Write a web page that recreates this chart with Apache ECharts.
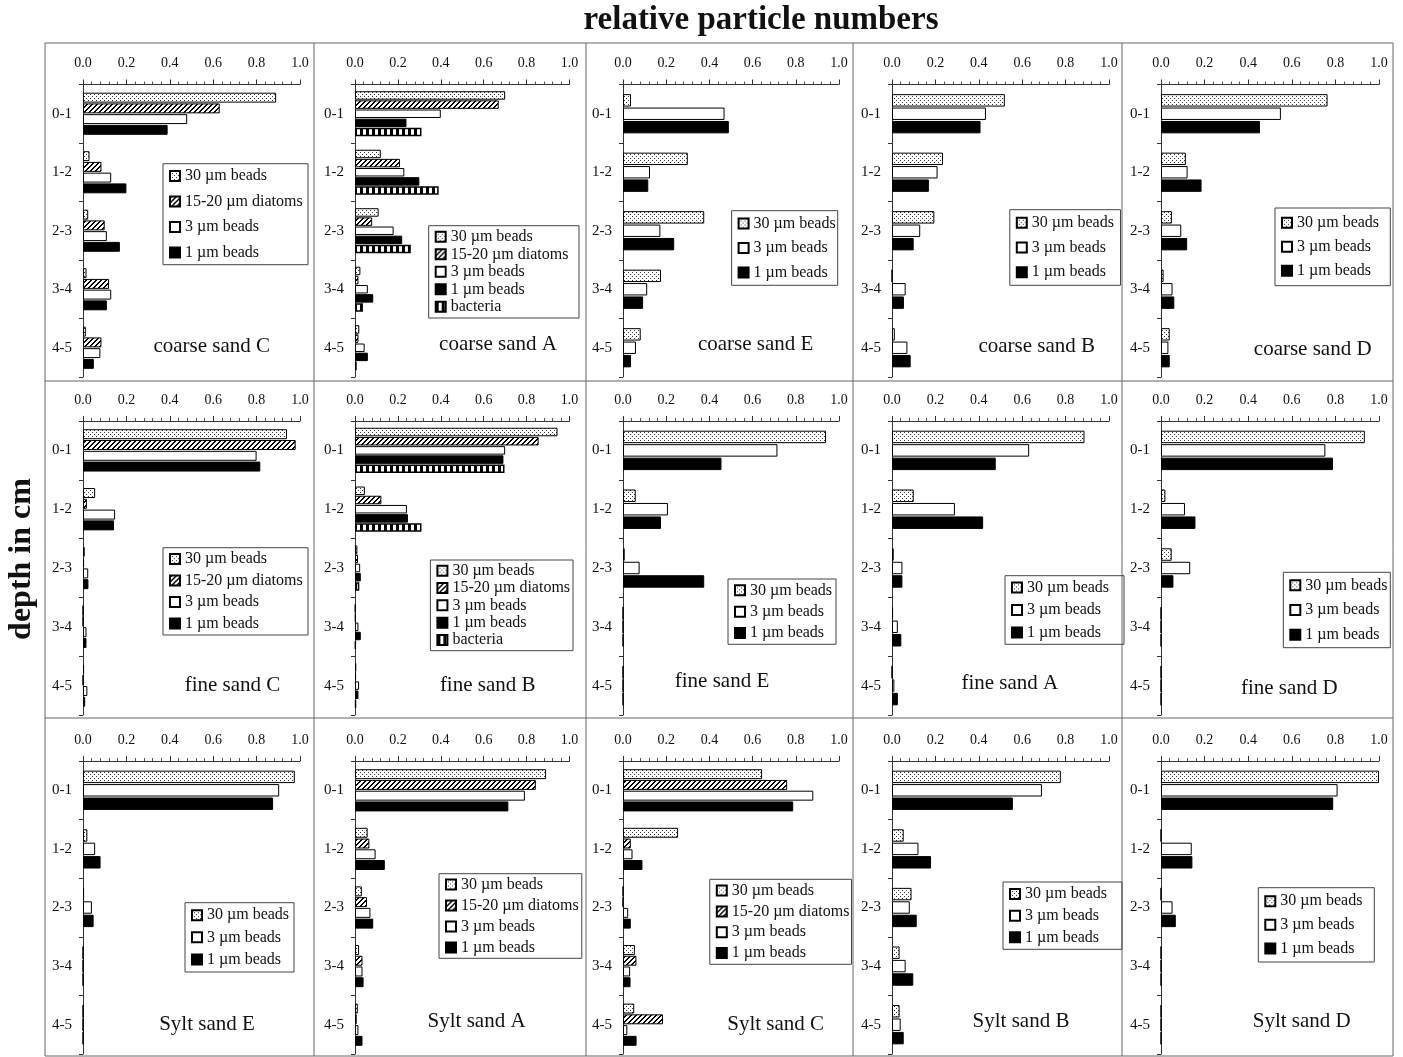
<!DOCTYPE html>
<html><head><meta charset="utf-8">
<script src="https://cdn.jsdelivr.net/npm/echarts/dist/echarts.min.js"></script>
<style>html,body{margin:0;padding:0;background:#fff}#c{width:1403px;height:1057px}</style>
</head><body><div id="c"></div>
<script>
// ---------- data ----------
const depthCategories = ['0-1', '1-2', '2-3', '3-4', '4-5'];
const xTickLabels = ['0.0', '0.2', '0.4', '0.6', '0.8', '1.0'];
const NAME_B30 = '30 µm beads', NAME_DIAT = '15-20 µm diatoms', NAME_B3 = '3 µm beads', NAME_B1 = '1 µm beads', NAME_BACT = 'bacteria';

const coarseC_b30 = [0.89, 0.03, 0.024, 0.016, 0.013];
const coarseC_diat = [0.63, 0.085, 0.10, 0.12, 0.085];
const coarseC_b3 = [0.48, 0.13, 0.11, 0.13, 0.08];
const coarseC_b1 = [0.39, 0.20, 0.17, 0.11, 0.05];

const coarseA_b30 = [0.70, 0.12, 0.11, 0.025, 0.02];
const coarseA_diat = [0.67, 0.21, 0.08, 0.016, 0.016];
const coarseA_b3 = [0.40, 0.23, 0.18, 0.06, 0.045];
const coarseA_b1 = [0.24, 0.30, 0.22, 0.085, 0.06];
const coarseA_bact = [0.31, 0.39, 0.26, 0.037, 0.008];

const coarseE_b30 = [0.037, 0.30, 0.376, 0.176, 0.082];
const coarseE_b3 = [0.47, 0.125, 0.173, 0.112, 0.06];
const coarseE_b1 = [0.49, 0.117, 0.237, 0.093, 0.037];

const coarseB_b30 = [0.52, 0.235, 0.195, 0, 0.013];
const coarseB_b3 = [0.433, 0.21, 0.13, 0.063, 0.071];
const coarseB_b1 = [0.408, 0.17, 0.10, 0.055, 0.086];

const coarseD_b30 = [0.764, 0.114, 0.05, 0.012, 0.04];
const coarseD_b3 = [0.55, 0.122, 0.093, 0.053, 0.034];
const coarseD_b1 = [0.454, 0.186, 0.12, 0.061, 0.04];

const fineC_b30 = [0.94, 0.056, 0.008, 0, 0.005];
const fineC_diat = [0.98, 0.018, 0.005, 0, 0];
const fineC_b3 = [0.80, 0.148, 0.024, 0.016, 0.02];
const fineC_b1 = [0.817, 0.143, 0.025, 0.016, 0.01];

const fineB_b30 = [0.944, 0.046, 0.011, 0.002, 0.006];
const fineB_diat = [0.856, 0.123, 0.014, 0.003, 0.005];
const fineB_b3 = [0.70, 0.242, 0.024, 0.016, 0.019];
const fineB_b1 = [0.692, 0.247, 0.027, 0.027, 0.016];
const fineB_bact = [0.697, 0.31, 0.02, 0.003, 0.005];

const fineE_b30 = [0.94, 0.059, 0.008, 0, 0];
const fineE_b3 = [0.715, 0.208, 0.077, 0, 0];
const fineE_b1 = [0.456, 0.176, 0.376, 0, 0];

const fineA_b30 = [0.887, 0.10, 0.008, 0.005, 0];
const fineA_b3 = [0.632, 0.29, 0.048, 0.027, 0.011];
const fineA_b1 = [0.478, 0.42, 0.048, 0.043, 0.027];

const fineD_b30 = [0.935, 0.02, 0.049, 0, 0];
const fineD_b3 = [0.754, 0.11, 0.134, 0, 0];
const fineD_b1 = [0.789, 0.158, 0.057, 0, 0];

const syltE_b30 = [0.976, 0.02, 0.005, 0, 0];
const syltE_b3 = [0.904, 0.056, 0.041, 0, 0];
const syltE_b1 = [0.876, 0.081, 0.049, 0, 0];

const syltA_b30 = [0.891, 0.059, 0.032, 0.019, 0.013];
const syltA_diat = [0.843, 0.067, 0.056, 0.035, 0.008];
const syltA_b3 = [0.792, 0.096, 0.072, 0.035, 0.016];
const syltA_b1 = [0.715, 0.139, 0.085, 0.04, 0.035];

const syltC_b30 = [0.644, 0.255, 0, 0.055, 0.052];
const syltC_diat = [0.76, 0.036, 0, 0.062, 0.185];
const syltC_b3 = [0.881, 0.044, 0.024, 0.033, 0.02];
const syltC_b1 = [0.788, 0.09, 0.036, 0.035, 0.063];

const syltB_b30 = [0.778, 0.054, 0.09, 0.035, 0.035];
const syltB_b3 = [0.691, 0.122, 0.082, 0.063, 0.04];
const syltB_b1 = [0.557, 0.18, 0.114, 0.098, 0.054];

const syltD_b30 = [1.0, 0, 0, 0, 0];
const syltD_b3 = [0.81, 0.141, 0.053, 0, 0];
const syltD_b1 = [0.79, 0.144, 0.068, 0, 0];

const panels = [
  { title: 'coarse sand C', series: [[NAME_B30, coarseC_b30], [NAME_DIAT, coarseC_diat], [NAME_B3, coarseC_b3], [NAME_B1, coarseC_b1]] },
  { title: 'coarse sand A', series: [[NAME_B30, coarseA_b30], [NAME_DIAT, coarseA_diat], [NAME_B3, coarseA_b3], [NAME_B1, coarseA_b1], [NAME_BACT, coarseA_bact]] },
  { title: 'coarse sand E', series: [[NAME_B30, coarseE_b30], [NAME_B3, coarseE_b3], [NAME_B1, coarseE_b1]] },
  { title: 'coarse sand B', series: [[NAME_B30, coarseB_b30], [NAME_B3, coarseB_b3], [NAME_B1, coarseB_b1]] },
  { title: 'coarse sand D', series: [[NAME_B30, coarseD_b30], [NAME_B3, coarseD_b3], [NAME_B1, coarseD_b1]] },
  { title: 'fine sand C', series: [[NAME_B30, fineC_b30], [NAME_DIAT, fineC_diat], [NAME_B3, fineC_b3], [NAME_B1, fineC_b1]] },
  { title: 'fine sand B', series: [[NAME_B30, fineB_b30], [NAME_DIAT, fineB_diat], [NAME_B3, fineB_b3], [NAME_B1, fineB_b1], [NAME_BACT, fineB_bact]] },
  { title: 'fine sand E', series: [[NAME_B30, fineE_b30], [NAME_B3, fineE_b3], [NAME_B1, fineE_b1]] },
  { title: 'fine sand A', series: [[NAME_B30, fineA_b30], [NAME_B3, fineA_b3], [NAME_B1, fineA_b1]] },
  { title: 'fine sand D', series: [[NAME_B30, fineD_b30], [NAME_B3, fineD_b3], [NAME_B1, fineD_b1]] },
  { title: 'Sylt sand E', series: [[NAME_B30, syltE_b30], [NAME_B3, syltE_b3], [NAME_B1, syltE_b1]] },
  { title: 'Sylt sand A', series: [[NAME_B30, syltA_b30], [NAME_DIAT, syltA_diat], [NAME_B3, syltA_b3], [NAME_B1, syltA_b1]] },
  { title: 'Sylt sand C', series: [[NAME_B30, syltC_b30], [NAME_DIAT, syltC_diat], [NAME_B3, syltC_b3], [NAME_B1, syltC_b1]] },
  { title: 'Sylt sand B', series: [[NAME_B30, syltB_b30], [NAME_B3, syltB_b3], [NAME_B1, syltB_b1]] },
  { title: 'Sylt sand D', series: [[NAME_B30, syltD_b30], [NAME_B3, syltD_b3], [NAME_B1, syltD_b1]] }
];

// ---------- layout (pixels) ----------
const colX = [[83, 300], [355, 569.5], [623, 839], [892, 1109], [1161, 1379]];
const rowY = [[84.5, 377], [421, 715], [761, 1054]];
const frameX = [45, 314, 586, 853, 1122, 1393];
const frameY = [43, 381, 718, 1056];
// legend boxes: [left, top, right, bottom, itemSpacing]; title centre [x, y]
const legendBoxes = [
  [163, 163.7, 307, 264.7, 25.5], [428.7, 225.7, 578, 318, 17.5], [731.6, 210.7, 836.7, 285.3, 24.5], [1009.8, 209.7, 1119.5, 285.3, 24.7], [1275, 208, 1389.3, 285.7, 24],
  [163, 547.7, 307, 635, 21.5], [430.4, 560, 572, 650.7, 17.3], [728, 579, 835, 644.3, 21.3], [1005, 575.7, 1123, 644.3, 22.5], [1283.3, 572.3, 1389.3, 647.7, 24.7],
  [185, 902.7, 293, 972, 22.2], [439, 873.7, 580.8, 958.3, 21], [709.8, 879.3, 850.5, 964.3, 20.8], [1003, 882, 1121, 949.3, 21.7], [1258.3, 887.7, 1373.3, 962, 23.7]
];
const titlePos = [
  [211.7, 346.3], [498, 344.7], [755.7, 344.7], [1036.7, 346.3], [1312.7, 349],
  [232.5, 685], [487.7, 685], [722, 681.7], [1009.8, 683.3], [1289.3, 688.3],
  [207, 1024.3], [476.6, 1021], [775.7, 1024.3], [1021, 1021], [1301.7, 1021]
];

const FONT = '"Liberation Serif", "Times New Roman", serif';

function makeCanvas(w, h, draw) {
  const c = document.createElement('canvas'); c.width = w; c.height = h;
  const ctx = c.getContext('2d'); draw(ctx); return c;
}
const dotCanvas = makeCanvas(4, 4, ctx => {
  ctx.fillStyle = '#fff'; ctx.fillRect(0, 0, 4, 4);
  ctx.fillStyle = '#3a3a3a'; ctx.fillRect(0, 0, 1, 1); ctx.fillRect(2, 2, 1, 1);
});
const hatchCanvas = makeCanvas(5, 5, ctx => {
  ctx.fillStyle = '#fff'; ctx.fillRect(0, 0, 5, 5);
  ctx.fillStyle = '#000';
  for (let x = 0; x < 5; x++) for (let y = 0; y < 5; y++) if ((x + y) % 5 < 2) ctx.fillRect(x, y, 1, 1);
});
const stripeCanvas = makeCanvas(6, 1, ctx => {
  ctx.fillStyle = '#fff'; ctx.fillRect(0, 0, 6, 1);
  ctx.fillStyle = '#000'; ctx.fillRect(0, 0, 3, 1);
});
const styles = {};
styles[NAME_B30] = { color: { image: dotCanvas, repeat: 'repeat' }, borderColor: '#000', borderWidth: 1 };
styles[NAME_DIAT] = { color: { image: hatchCanvas, repeat: 'repeat' }, borderColor: '#000', borderWidth: 1 };
styles[NAME_B3] = { color: '#fff', borderColor: '#000', borderWidth: 1 };
styles[NAME_B1] = { color: '#000', borderColor: '#000', borderWidth: 1 };
styles[NAME_BACT] = { color: { image: stripeCanvas, repeat: 'repeat' }, borderColor: '#000', borderWidth: 1.5 };

const measureCtx = document.createElement('canvas').getContext('2d');
measureCtx.font = '16px ' + FONT;

const option = { animation: false, grid: [], xAxis: [], yAxis: [], series: [], legend: [], graphic: [] };

panels.forEach((p, i) => {
  const col = i % 5, row = Math.floor(i / 5);
  const [x0, x1] = colX[col];
  const [t, b] = rowY[row];
  option.grid.push({ left: x0, width: x1 - x0, top: t, height: b - t, containLabel: false });
  option.xAxis.push({
    gridIndex: i, type: 'value', position: 'top', min: 0, max: 1, interval: 0.2,
    axisLine: { show: true, lineStyle: { color: '#333', width: 1 } },
    axisTick: { show: true, length: 5, lineStyle: { color: '#333' } },
    minorTick: { show: true, splitNumber: 5, length: 3, lineStyle: { color: '#555' } },
    splitLine: { show: false }, minorSplitLine: { show: false },
    axisLabel: { margin: 14, fontSize: 14, fontFamily: FONT, color: '#111',
      formatter: v => xTickLabels[Math.round(v / 0.2)] }
  });
  option.yAxis.push({
    gridIndex: i, type: 'category', data: depthCategories, inverse: true,
    axisLine: { show: true, onZero: false, lineStyle: { color: '#333', width: 1 } },
    axisTick: { show: true, length: 4, lineStyle: { color: '#333' } },
    splitLine: { show: false },
    axisLabel: { margin: 11, fontSize: 15, fontFamily: FONT, color: '#111' }
  });
  const n = p.series.length;
  const catGap = n === 3 ? '33%' : (n === 4 ? '28%' : '23%');
  p.series.forEach(([name, values]) => {
    option.series.push({
      type: 'bar', name, xAxisIndex: i, yAxisIndex: i, data: values,
      barGap: '8%', barCategoryGap: catGap,
      itemStyle: styles[name], emphasis: { disabled: true }, silent: true
    });
  });
  // legend
  const [lx, ly, rx, by, sp] = legendBoxes[i];
  const names = p.series.map(s => s[0]);
  const lh = Math.min(18, sp);
  const gap = sp - lh;
  const contentH = n * lh + (n - 1) * gap;
  const pv = Math.max(0, ((by - ly) - contentH) / 2);
  const maxW = Math.max(...names.map(s => measureCtx.measureText(s).width));
  const padL = 6;
  const padR = Math.max(2, (rx - lx) - padL - (10 + 5 + maxW));
  option.legend.push({
    left: lx, top: ly, orient: 'vertical', icon: 'rect', itemWidth: 10, itemHeight: 10, itemGap: gap,
    padding: [pv, padR, pv, padL], borderColor: '#444', borderWidth: 1, selectedMode: false,
    textStyle: { fontSize: 16, fontFamily: FONT, color: '#111', lineHeight: lh },
    data: names
  });
  option.graphic.push({
    type: 'text', x: titlePos[i][0], y: titlePos[i][1], silent: true,
    style: { text: p.title, font: '21px ' + FONT, fill: '#111', textAlign: 'center', textVerticalAlign: 'middle' }
  });
});

// frame lines
frameX.forEach(x => option.graphic.push({ type: 'line', silent: true, shape: { x1: x, y1: frameY[0], x2: x, y2: frameY[3] }, style: { stroke: '#666', lineWidth: 1 } }));
frameY.forEach(y => option.graphic.push({ type: 'line', silent: true, shape: { x1: frameX[0], y1: y, x2: frameX[5], y2: y }, style: { stroke: '#666', lineWidth: 1 } }));
// main titles
option.graphic.push({ type: 'text', x: 761, y: 20, silent: true,
  style: { text: 'relative particle numbers', font: 'bold 33px ' + FONT, fill: '#111', textAlign: 'center', textVerticalAlign: 'middle' } });
option.graphic.push({ type: 'text', x: 22, y: 559, rotation: Math.PI / 2, silent: true,
  style: { text: 'depth in cm', font: 'bold 32px ' + FONT, fill: '#111', textAlign: 'center', textVerticalAlign: 'middle' } });

const chart = echarts.init(document.getElementById('c'), null, { renderer: 'canvas' });
chart.setOption(option);
</script>
</body></html>
